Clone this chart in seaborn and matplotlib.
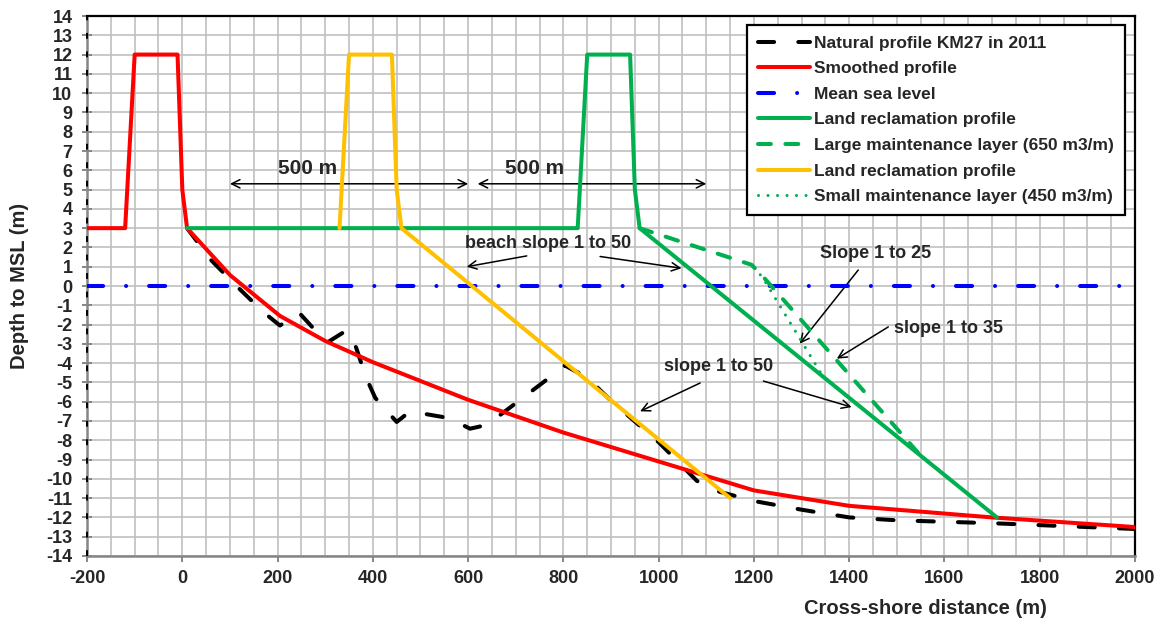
import matplotlib
matplotlib.use("Agg")
import matplotlib.pyplot as plt
import seaborn as sns
from matplotlib.ticker import MultipleLocator

# ---------------- data ----------------
natural_x = [10, 60, 120, 170, 205, 245, 303, 345, 365, 385, 405, 450, 478, 560, 604,
             640, 680, 760, 803, 850, 900, 1000, 1080, 1110, 1200, 1300, 1400, 1500,
             1700, 1850, 2000]
natural_y = [3.0, 1.35, -0.15, -1.35, -2.05, -1.38, -2.95, -2.3, -3.2, -4.7, -5.8, -7.05,
             -6.5, -6.85, -7.4, -7.2, -6.45, -4.95, -4.12, -4.75, -5.95, -8.1, -10.1,
             -10.55, -11.15, -11.6, -12.0, -12.15, -12.3, -12.45, -12.6]

smooth_x = [-200, -120, -100, -10, 0, 10, 100, 205, 300, 400, 600, 800, 1000, 1200,
            1400, 1700, 2000]
smooth_y = [3, 3, 12, 12, 5, 3, 0.57, -1.55, -2.85, -3.95, -5.9, -7.6, -9.1, -10.6,
            -11.4, -12.0, -12.5]

msl_x = [-200, 2000]
msl_y = [0, 0]

green_x = [10, 830, 850, 940, 950, 960, 1710]
green_y = [3, 3, 12, 12, 5, 3, -12]

large_x = [960, 1195, 1215, 1550]
large_y = [3, 1.1, 0.6, -8.8]

yellow_x = [330, 350, 440, 450, 460, 1150]
yellow_y = [3, 12, 12, 5, 3, -11]

small_x = [1200, 1218, 1345]
small_y = [0.95, 0.45, -4.7]

edge_x = [-200, -200]
edge_y = [-14, 14]

labels = ["Natural profile KM27 in 2011", "Smoothed profile", "Mean sea level",
          "Land reclamation profile", "Large maintenance layer (650 m3/m)",
          "Land reclamation profile", "Small maintenance layer (450 m3/m)"]

x_ticks = list(range(-200, 2001, 200))
y_ticks = list(range(-14, 15, 1))

# ---------------- style ----------------
sns.set_style("white")
plt.rcParams["font.family"] = ["Liberation Sans", "DejaVu Sans"]
plt.rcParams["font.weight"] = "bold"
plt.rcParams["axes.labelweight"] = "bold"
plt.rcParams["axes.unicode_minus"] = False

fig, ax = plt.subplots(figsize=(11.62, 6.21), dpi=100)
fig.subplots_adjust(left=0.0749, right=0.9768, top=0.9742, bottom=0.1047)

RED = "#FF0000"
BLUE = "#0000FF"
GREEN = "#00B050"
YELLOW = "#FFC000"
LW = 2.9


def draw(x, y, **kw):
    sns.lineplot(x=x, y=y, ax=ax, sort=False, estimator=None, **kw)


draw(natural_x, natural_y, color="black", linewidth=LW, linestyle=(0, (4, 6)),
     dash_capstyle="round", label=labels[0], zorder=3)
draw(smooth_x, smooth_y, color=RED, linewidth=LW, solid_joinstyle="round",
     label=labels[1], zorder=4)
draw(msl_x, msl_y, color=BLUE, linewidth=LW, linestyle=(0, (4, 5.7, 0.01, 5.7)),
     dash_capstyle="round", label=labels[2], zorder=5)
draw(green_x, green_y, color=GREEN, linewidth=LW, label=labels[3], zorder=6)
draw(large_x, large_y, color=GREEN, linewidth=LW, linestyle=(0, (3.2, 3.6)),
     dash_capstyle="round", label=labels[4], zorder=7.5)
draw(yellow_x, yellow_y, color=YELLOW, linewidth=LW, label=labels[5], zorder=8)
draw(small_x, small_y, color=GREEN, linewidth=2.2, linestyle=(0, (0.01, 3.1)),
     dash_capstyle="round", label=labels[6], zorder=7)
draw(edge_x, edge_y, color="black", linewidth=1.4, linestyle=(0, (3, 6.5)),
     zorder=10, clip_on=False)

# ---------------- axes ----------------
ax.set_xlim(-200, 2000)
ax.set_ylim(-14, 14)
ax.set_xticks(x_ticks)
ax.set_yticks(y_ticks)
ax.xaxis.set_minor_locator(MultipleLocator(50))
ax.grid(which="both", color="#c0c0c0", linewidth=1.2)
ax.set_axisbelow(True)

for s in ["left", "bottom"]:
    ax.spines[s].set_color("#868686")
    ax.spines[s].set_linewidth(1.8)
for s in ["top", "right"]:
    ax.spines[s].set_color("black")
    ax.spines[s].set_linewidth(1.6)

ax.tick_params(axis="x", which="major", direction="out", length=4, width=1.4,
               color="#868686", labelsize=13, pad=6, bottom=True)
ax.tick_params(axis="x", which="minor", length=0)
ax.tick_params(axis="y", which="major", direction="inout", length=7, width=1.4,
               color="#868686", labelsize=13, pad=7, left=True)

ax.set_xlabel("Cross-shore distance (m)", fontsize=14.5, fontweight="bold")
ax.set_ylabel("Depth to MSL (m)", fontsize=14.5, fontweight="bold")
ax.xaxis.set_label_coords(0.80, -0.08)
ax.yaxis.set_label_coords(-0.055, 0.5)

# ---------------- annotations ----------------
head = dict(arrowstyle="->,head_length=0.6,head_width=0.3", color="black", lw=1.1,
            shrinkA=0, shrinkB=0)
dbl = dict(arrowstyle="<->,head_length=0.6,head_width=0.3", color="black", lw=1.1,
           shrinkA=0, shrinkB=0)

ax.annotate("", xy=(600, 5.3), xytext=(100, 5.3), arrowprops=dbl)
ax.annotate("", xy=(1100, 5.3), xytext=(620, 5.3), arrowprops=dbl)
ax.text(263, 6.1, "500 m", fontsize=15, fontweight="bold", ha="center", va="center")
ax.text(740, 6.1, "500 m", fontsize=15, fontweight="bold", ha="center", va="center")

ax.text(767, 2.2, "beach slope 1 to 50", fontsize=13, fontweight="bold",
        ha="center", va="center")
ax.annotate("", xy=(597, 1.0), xytext=(723, 1.56), arrowprops=head)
ax.annotate("", xy=(1048, 0.92), xytext=(877, 1.53), arrowprops=head)

ax.text(1455, 1.7, "Slope 1 to 25", fontsize=13, fontweight="bold",
        ha="center", va="center")
ax.annotate("", xy=(1296, -2.99), xytext=(1419, 0.83), arrowprops=head)

ax.text(1608, -2.2, "slope 1 to 35", fontsize=13, fontweight="bold",
        ha="center", va="center")
ax.annotate("", xy=(1374, -3.77), xytext=(1482, -2.12), arrowprops=head)

ax.text(1126, -4.15, "slope 1 to 50", fontsize=13, fontweight="bold",
        ha="center", va="center")
ax.annotate("", xy=(961, -6.5), xytext=(1087, -5.03), arrowprops=head)
ax.annotate("", xy=(1405, -6.28), xytext=(1220, -4.93), arrowprops=head)

# ---------------- legend ----------------
handles, lbls = ax.get_legend_handles_labels()
leg = ax.legend(handles[:7], lbls[:7], loc="upper right", bbox_to_anchor=(0.990, 0.983),
                borderaxespad=0, fontsize=12.5, frameon=True, fancybox=False,
                framealpha=1, edgecolor="black", handlelength=3.0,
                handletextpad=0.25, labelspacing=0.6, borderpad=0.6)
leg.get_frame().set_linewidth(1.6)
leg.set_zorder(20)

fig.savefig("out.png", dpi=100)
